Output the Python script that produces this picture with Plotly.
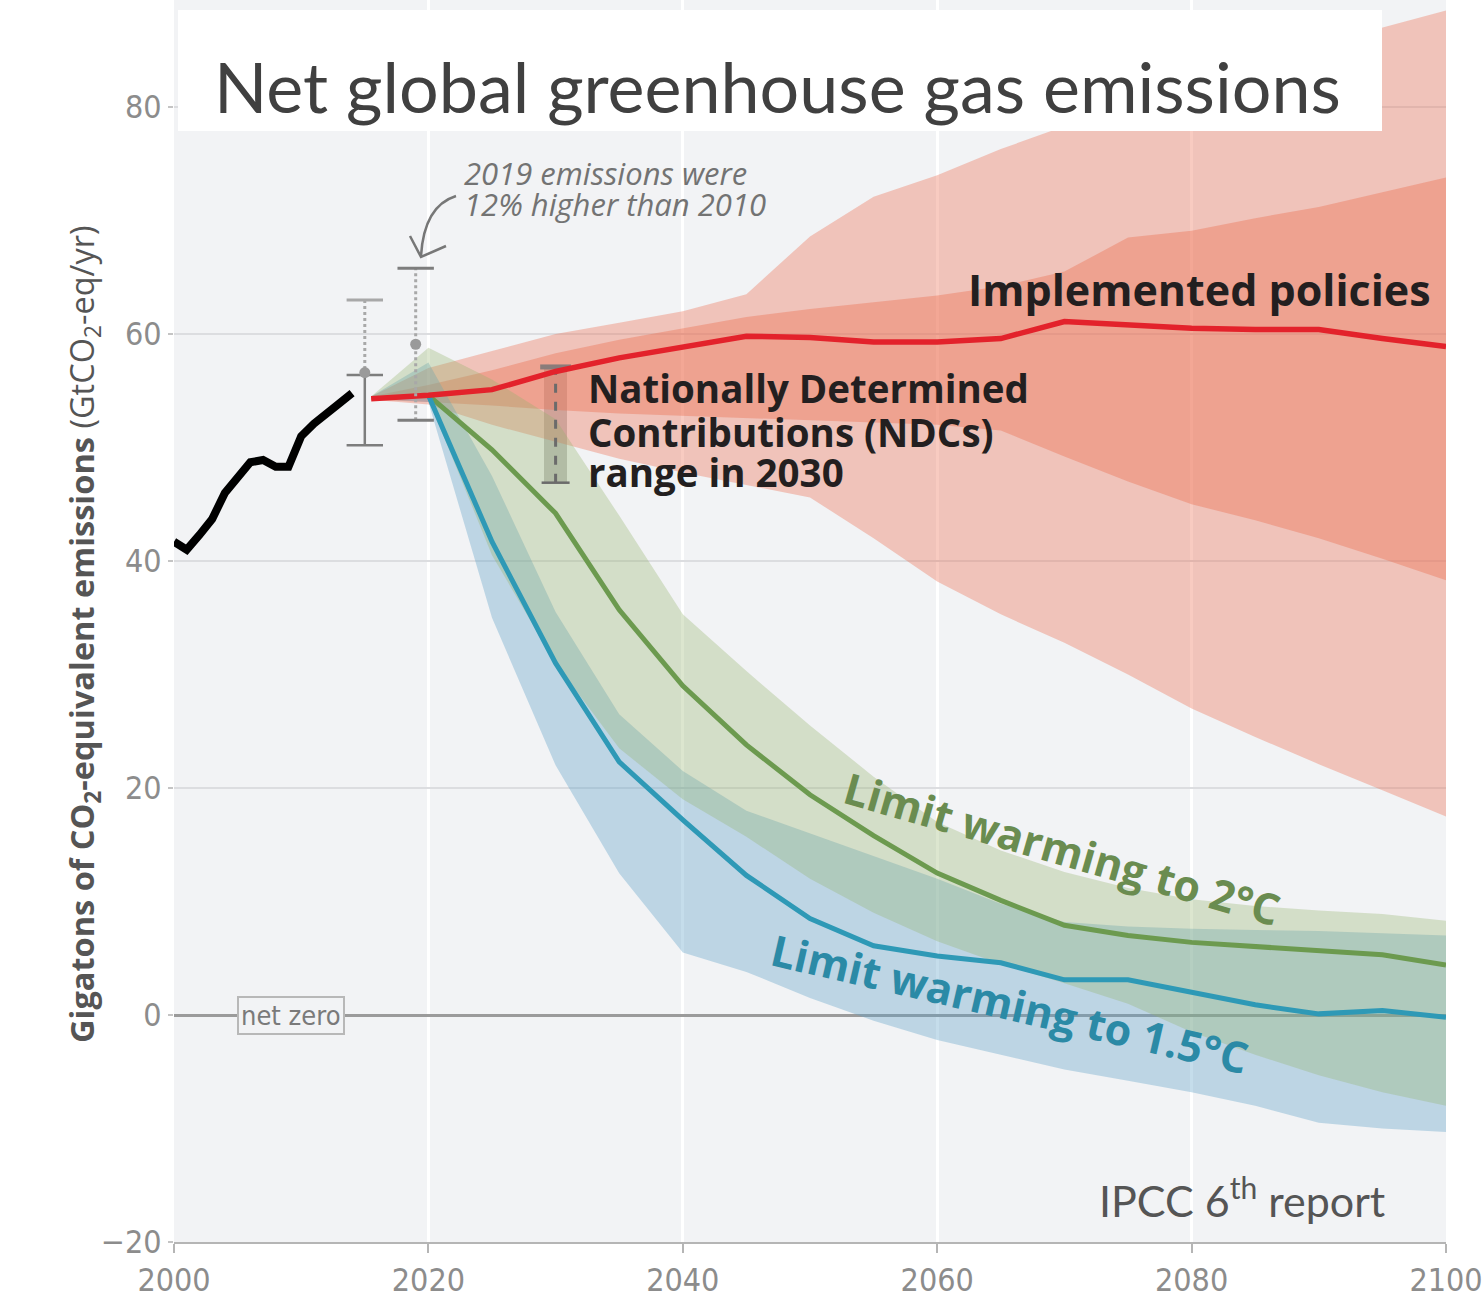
import plotly.graph_objects as go

# ---------------- data ----------------
hist_years = list(range(2000, 2015))
hist_values = [41.7, 41.0, 42.3, 43.7, 46.0, 47.4, 48.7, 48.9, 48.3, 48.3, 51.0, 52.1, 52.9, 53.9, 54.8]

proj_years = [2015.5, 2020, 2025, 2030, 2035, 2040, 2045, 2050, 2055, 2060,
              2065, 2070, 2075, 2080, 2085, 2090, 2095, 2100]

policy_median = [54.3, 54.6, 55.1, 56.7, 57.9, 58.8, 59.8, 59.7, 59.3, 59.3,
                 59.6, 61.1, 60.8, 60.5, 60.4, 60.4, 59.6, 58.9]
policy_outer_hi = [54.5, 57.0, 58.5, 60.0, 61.0, 62.0, 63.5, 68.6, 72.1, 74.0,
                   76.3, 78.3, 80.5, 82.5, 84.0, 85.5, 87.0, 88.5]
policy_outer_lo = [54.2, 53.8, 52.0, 50.5, 49.0, 47.8, 46.7, 45.6, 42.0, 38.2,
                   35.3, 32.8, 30.0, 27.0, 24.5, 22.1, 19.8, 17.5]
policy_inner_hi = [54.5, 55.5, 56.8, 58.3, 59.5, 60.5, 61.5, 62.2, 62.8, 63.4,
                   64.2, 65.5, 68.5, 69.1, 70.2, 71.2, 72.5, 73.8]
policy_inner_lo = [54.2, 54.0, 53.7, 53.3, 53.0, 52.8, 52.6, 52.4, 52.2, 52.0,
                   51.5, 49.2, 47.0, 45.0, 43.6, 42.0, 40.2, 38.3]

w2_median = [54.3, 54.6, 49.8, 44.2, 35.7, 29.0, 23.8, 19.4, 15.8, 12.5,
             10.1, 7.9, 7.0, 6.4, 6.0, 5.7, 5.3, 4.4]
w2_hi = [54.5, 58.8, 56.0, 52.5, 44.0, 35.3, 30.3, 25.5, 21.0, 17.0,
         14.5, 12.6, 11.2, 10.2, 9.6, 9.2, 8.9, 8.3]
w2_lo = [54.3, 54.3, 40.5, 31.0, 23.5, 19.0, 15.7, 12.0, 9.0, 6.5,
         4.5, 2.8, 1.0, -1.5, -3.5, -5.3, -6.8, -8.0]

w15_median = [54.3, 54.6, 41.7, 31.0, 22.3, 17.2, 12.3, 8.5, 6.1, 5.2,
              4.6, 3.1, 3.1, 2.0, 0.9, 0.1, 0.4, -0.2]
w15_hi = [54.5, 57.5, 47.5, 35.5, 26.5, 21.5, 18.0, 16.0, 14.0, 12.0,
          9.8, 8.2, 7.8, 7.6, 7.5, 7.4, 7.2, 7.0]
w15_lo = [54.3, 54.0, 35.0, 22.0, 12.5, 5.5, 3.8, 1.5, -0.5, -2.2,
          -3.5, -4.8, -5.8, -6.8, -8.0, -9.5, -10.0, -10.3]

# uncertainty bars of historical estimates
bar2015_year = 2015
bar2015_low, bar2015_mid_cap, bar2015_dot, bar2015_high = 50.2, 56.4, 56.6, 63.0
bar2019_year = 2019
bar2019_low, bar2019_dot, bar2019_high = 52.4, 59.1, 65.8

# NDC range in 2030
ndc_year = 2030
ndc_low, ndc_high = 46.9, 57.1

x_ticks = [2000, 2020, 2040, 2060, 2080, 2100]
y_ticks = [-20, 0, 20, 40, 60, 80]

# ---------------- layout geometry ----------------
W, H = 1482, 1303
ML, MR, MT, MB = 174, 36, 0, 61
PW, PH = W - ML - MR, H - MT - MB
X0, X1 = 2000, 2100
Y0, Y1 = -20, 89.43


def dx(px):
    return X0 + (px - ML) / PW * (X1 - X0)


def dy(py):
    return Y1 - (py - MT) / PH * (Y1 - Y0)


def paper_x(px):
    return (px - ML) / PW


def paper_y(py):
    return 1 - (py - MT) / PH


COND = "Liberation Sans Narrow, DejaVu Sans Condensed, Roboto Condensed, Roboto, sans-serif"
BOLD = "Open Sans, Noto Sans, sans-serif"

fig = go.Figure()


def band(hi, lo, color):
    fig.add_trace(go.Scatter(x=proj_years, y=hi, mode="lines", line=dict(width=0),
                             hoverinfo="skip", showlegend=False))
    fig.add_trace(go.Scatter(x=proj_years, y=lo, mode="lines", line=dict(width=0),
                             fill="tonexty", fillcolor=color, hoverinfo="skip",
                             showlegend=False))


band(policy_outer_hi, policy_outer_lo, "rgba(236,112,82,0.36)")
band(policy_inner_hi, policy_inner_lo, "rgba(236,112,82,0.40)")
band(w15_hi, w15_lo, "rgba(95,160,200,0.36)")
band(w2_hi, w2_lo, "rgba(150,180,110,0.33)")

# NDC range bar
fig.add_trace(go.Bar(x=[ndc_year], y=[ndc_high - ndc_low], base=[ndc_low], width=1.8,
                     marker=dict(color="rgba(130,130,130,0.45)", line=dict(width=0)),
                     showlegend=False, hoverinfo="skip"))
fig.add_trace(go.Scatter(x=[ndc_year, ndc_year], y=[ndc_low, ndc_high], mode="lines",
                         line=dict(color="#6b6b6b", width=3, dash="dash"),
                         showlegend=False, hoverinfo="skip"))
fig.add_trace(go.Scatter(x=[ndc_year], y=[ndc_high], mode="markers",
                         marker=dict(symbol="line-ew", size=22, line=dict(width=5, color="#8a7c7a")),
                         showlegend=False, hoverinfo="skip"))
fig.add_trace(go.Scatter(x=[ndc_year], y=[ndc_low], mode="markers",
                         marker=dict(symbol="line-ew", size=20, line=dict(width=2.5, color="#6b6b6b")),
                         showlegend=False, hoverinfo="skip"))

# pathway medians
fig.add_trace(go.Scatter(x=proj_years[1:], y=w2_median[1:], mode="lines",
                         line=dict(color="#6c9a4f", width=5), showlegend=False))
fig.add_trace(go.Scatter(x=proj_years[1:], y=w15_median[1:], mode="lines",
                         line=dict(color="#2e99b6", width=5), showlegend=False))
fig.add_trace(go.Scatter(x=proj_years, y=policy_median, mode="lines",
                         line=dict(color="#e3222b", width=5.5), showlegend=False))

# historical
fig.add_trace(go.Scatter(x=hist_years, y=hist_values, mode="lines",
                         line=dict(color="#000000", width=8), showlegend=False))

# uncertainty bars
grey_d, grey_l = "#7d7d7d", "#a8a8a8"
fig.add_trace(go.Scatter(x=[bar2015_year] * 2, y=[bar2015_mid_cap, bar2015_high], mode="lines",
                         line=dict(color=grey_l, width=3, dash="dot"), showlegend=False))
fig.add_trace(go.Scatter(x=[bar2015_year] * 2, y=[bar2015_low, bar2015_mid_cap], mode="lines",
                         line=dict(color=grey_d, width=2.5), showlegend=False))
fig.add_trace(go.Scatter(x=[bar2015_year] * 2, y=[bar2015_low, bar2015_mid_cap], mode="markers",
                         marker=dict(symbol="line-ew", size=26, line=dict(width=2.5, color=grey_d)),
                         showlegend=False))
fig.add_trace(go.Scatter(x=[bar2015_year], y=[bar2015_high], mode="markers",
                         marker=dict(symbol="line-ew", size=26, line=dict(width=3, color=grey_l)),
                         showlegend=False))
fig.add_trace(go.Scatter(x=[bar2015_year], y=[bar2015_dot], mode="markers",
                         marker=dict(symbol="circle", size=11, color="#9a9a9a"), showlegend=False))

fig.add_trace(go.Scatter(x=[bar2019_year] * 2, y=[bar2019_low, bar2019_high], mode="lines",
                         line=dict(color=grey_l, width=3, dash="dot"), showlegend=False))
fig.add_trace(go.Scatter(x=[bar2019_year] * 2, y=[bar2019_low, bar2019_high], mode="markers",
                         marker=dict(symbol="line-ew", size=26, line=dict(width=3, color=grey_d)),
                         showlegend=False))
fig.add_trace(go.Scatter(x=[bar2019_year], y=[bar2019_dot], mode="markers",
                         marker=dict(symbol="circle", size=11, color="#9a9a9a"), showlegend=False))

# ---------------- shapes ----------------
shapes = [
    # white title box
    dict(type="rect", xref="paper", yref="paper", x0=paper_x(178), x1=paper_x(1382),
         y0=paper_y(131), y1=paper_y(10), fillcolor="white", line=dict(width=0), layer="above"),
    # curved arrow
    dict(type="path", xref="x", yref="y", layer="above",
         path=f"M {dx(456)},{dy(196)} Q {dx(424)},{dy(206)} {dx(421)},{dy(256)}",
         line=dict(color="#777777", width=2.5)),
    dict(type="path", xref="x", yref="y", layer="above",
         path=f"M {dx(410)},{dy(236)} L {dx(421)},{dy(257)} L {dx(446)},{dy(246)}",
         line=dict(color="#777777", width=2.5)),
]

# ---------------- annotations ----------------
ann = []
ann.append(dict(xref="paper", yref="paper", x=paper_x(212), y=paper_y(86), xanchor="left",
                yanchor="middle", showarrow=False, text="Net global greenhouse gas emissions",
                font=dict(family="Lato, Open Sans, sans-serif", size=70, color="#404040")))
ann.append(dict(xref="x", yref="y", x=dx(462), y=dy(173), xanchor="left", yanchor="middle",
                showarrow=False, text="<i>2019 emissions were</i>",
                font=dict(family="Open Sans, sans-serif", size=31, color="#737373")))
ann.append(dict(xref="x", yref="y", x=dx(462), y=dy(204), xanchor="left", yanchor="middle",
                showarrow=False, text="<i>12% higher than 2010</i>",
                font=dict(family="Open Sans, sans-serif", size=31, color="#737373")))
ann.append(dict(xref="x", yref="y", x=dx(966), y=dy(289), xanchor="left", yanchor="middle",
                showarrow=False, text="<b>Implemented policies</b>",
                font=dict(family=BOLD, size=43, color="#231f20")))
for txt, py in [("Nationally Determined", 388), ("Contributions (NDCs)", 432), ("range in 2030", 472)]:
    ann.append(dict(xref="x", yref="y", x=dx(586), y=dy(py), xanchor="left", yanchor="middle",
                    showarrow=False, text=f"<b>{txt}</b>",
                    font=dict(family=BOLD, size=38.5, color="#231f20")))
ann.append(dict(xref="x", yref="y", x=dx(1062), y=dy(848), xanchor="center", yanchor="middle",
                showarrow=False, text="<b>Limit warming to 2°C</b>", textangle=16,
                font=dict(family=BOLD, size=43, color="#6a8c50")))
ann.append(dict(xref="x", yref="y", x=dx(1010), y=dy(1003), xanchor="center", yanchor="middle",
                showarrow=False, text="<b>Limit warming to 1.5°C</b>", textangle=13,
                font=dict(family=BOLD, size=43, color="#2b8aa6")))
ann.append(dict(xref="x", yref="y", x=dx(291), y=0, xanchor="center", yanchor="middle",
                showarrow=False, text="net zero", bgcolor="#f2f3f5", bordercolor="#b8b8b8",
                borderwidth=2, borderpad=2,
                font=dict(family=COND, size=27, color="#7a7a7a")))
ann.append(dict(xref="x", yref="y", x=dx(1097), y=dy(1197), xanchor="left", yanchor="middle",
                showarrow=False, text="IPCC 6<sup>th</sup> report",
                font=dict(family="Lato, Open Sans, sans-serif", size=43, color="#555555")))
ann.append(dict(xref="paper", yref="paper", x=paper_x(83), y=paper_y(634), xanchor="center",
                yanchor="middle", showarrow=False, textangle=-90,
                text="<b>Gigatons of CO<sub>2</sub>-equivalent emissions</b> (GtCO<sub>2</sub>-eq/yr)",
                font=dict(family="Open Sans, sans-serif", size=32.5, color="#555555")))

fig.update_layout(
    width=W, height=H,
    margin=dict(l=ML, r=MR, t=MT, b=MB, pad=0),
    paper_bgcolor="white", plot_bgcolor="#f2f3f5",
    showlegend=False, bargap=0,
    shapes=shapes, annotations=ann,
    xaxis=dict(range=[X0, X1], tickvals=x_ticks, ticktext=[str(v) for v in x_ticks],
               showgrid=True, gridcolor="#ffffff", gridwidth=3, zeroline=False,
               showline=True, linecolor="#b5b5b5", linewidth=2,
               ticks="outside", ticklen=9, tickwidth=2, tickcolor="#b5b5b5",
               ticklabeloverflow="allow",
               tickfont=dict(family=COND, size=32, color="#8c8c8c")),
    yaxis=dict(range=[Y0, Y1], tickvals=y_ticks, showgrid=True, gridcolor="#dcdde0",
               gridwidth=2, zeroline=True, zerolinecolor="#9b9b9b", zerolinewidth=3,
               showline=False, ticks="outside", ticklen=5, tickwidth=2, tickcolor="#c4c4c4",
               tickfont=dict(family=COND, size=32, color="#8c8c8c")),
)

fig.write_html("out.html")
